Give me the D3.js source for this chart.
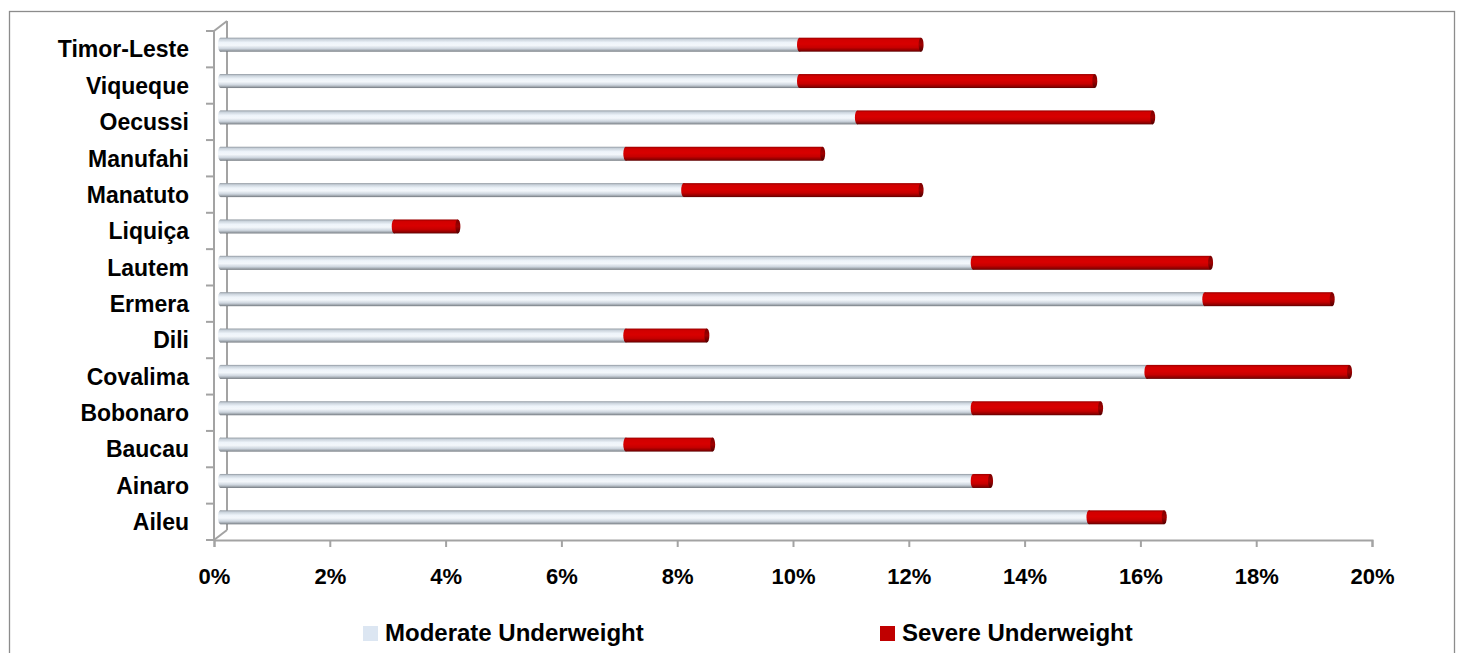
<!DOCTYPE html>
<html>
<head>
<meta charset="utf-8">
<script src="https://cdn.jsdelivr.net/npm/d3@7"></script>
<style>
  html, body { margin: 0; padding: 0; background: #fff; }
  svg { display: block; }
  text { font-family: "Liberation Sans", Arial, sans-serif; font-weight: bold; fill: #000; }
</style>
</head>
<body>
<svg id="chart" width="1457" height="653"></svg>
<script>
// Districts, top to bottom
const categories = ["Timor-Leste", "Viqueque", "Oecussi", "Manufahi", "Manatuto", "Liquiça",
  "Lautem", "Ermera", "Dili", "Covalima", "Bobonaro", "Baucau", "Ainaro", "Aileu"];
// Percentage of children underweight
const moderate = [10, 10, 11, 7, 8, 3, 13, 17, 7, 16, 13, 7, 13, 15];
const severe   = [2.1, 5.1, 5.1, 3.4, 4.1, 1.1, 4.1, 2.2, 1.4, 3.5, 2.2, 1.5, 0.3, 1.3];
const seriesNames = ["Moderate Underweight", "Severe Underweight"];
const xTicks = [0, 2, 4, 6, 8, 10, 12, 14, 16, 18, 20];

const svg = d3.select("#chart");
const defs = svg.append("defs");

// Cylinder shading gradients
function cylGradient(id, stops) {
  const g = defs.append("linearGradient").attr("id", id)
    .attr("x1", 0).attr("y1", 0).attr("x2", 0).attr("y2", 1);
  stops.forEach(s => g.append("stop").attr("offset", s[0]).attr("stop-color", s[1]));
}
cylGradient("gMod", [[0, "#8f979f"], [0.12, "#c9d2db"], [0.35, "#eef4fa"], [0.55, "#f3f7fb"],
  [0.78, "#cdd5de"], [0.92, "#9aa1a8"], [1, "#6d737a"]]);
cylGradient("gSev", [[0, "#9a0000"], [0.15, "#d20000"], [0.45, "#d80000"], [0.7, "#c60000"],
  [0.9, "#8e0000"], [1, "#5a0000"]]);
cylGradient("gSevCap", [[0, "#7a0000"], [0.5, "#a00000"], [1, "#500000"]]);

// Outer frame
svg.append("rect").attr("x", 9.5).attr("y", 11.5).attr("width", 1445).attr("height", 660)
  .attr("fill", "none").attr("stroke", "#8c8c8c").attr("stroke-width", 1.3);

const x = d3.scaleLinear().domain([0, 20]).range([214, 1372]);
const y = d3.scaleBand().domain(categories).range([31, 540]).paddingInner(0).paddingOuter(0);

// 3D depth offset of the back wall
const depthX = 13, depthY = -10;
const axisColor = "#a3a3a3";

// Back wall and side edges
const walls = svg.append("g").attr("stroke", axisColor).attr("stroke-width", 2).attr("fill", "none");
walls.append("line").attr("x1", x(0) + depthX).attr("y1", 31 + depthY)
  .attr("x2", x(0) + depthX).attr("y2", 540 + depthY);
walls.append("line").attr("x1", x(0)).attr("y1", 31).attr("x2", x(0) + depthX).attr("y2", 31 + depthY);
walls.append("line").attr("x1", x(0)).attr("y1", 540).attr("x2", x(0) + depthX).attr("y2", 540 + depthY);

// Bars: drawn halfway into the depth
const barH = 14;
const bx = depthX * 0.5, by = depthY * 0.45;
const capRx = 2.5;
const rows = categories.map((c, i) => ({ cat: c, mod: moderate[i], sev: severe[i] }));

const bars = svg.append("g");
rows.forEach(d => {
  const cy = y(d.cat) + y.bandwidth() / 2 + by;
  const x0 = x(0) + bx, x1 = x(d.mod) + bx, x2 = x(d.mod + d.sev) + bx;
  const top = cy - barH / 2;
  // moderate segment with rounded start
  bars.append("rect").attr("x", x0).attr("y", top).attr("width", x1 - x0).attr("height", barH)
    .attr("fill", "url(#gMod)");
  bars.append("ellipse").attr("cx", x0).attr("cy", cy).attr("rx", capRx).attr("ry", barH / 2)
    .attr("fill", "url(#gMod)");
  // severe segment
  bars.append("rect").attr("x", x1).attr("y", top).attr("width", x2 - x1).attr("height", barH)
    .attr("fill", "url(#gSev)");
  bars.append("ellipse").attr("cx", x1).attr("cy", cy).attr("rx", capRx).attr("ry", barH / 2)
    .attr("fill", "url(#gSev)");
  bars.append("ellipse").attr("cx", x2).attr("cy", cy).attr("rx", capRx).attr("ry", barH / 2)
    .attr("fill", "url(#gSevCap)");
});

// Category axis (front edge) with ticks on band boundaries
const yAxisG = svg.append("g").attr("transform", `translate(${x(0)},0)`)
  .call(d3.axisLeft(y).tickSize(0).tickPadding(25));
yAxisG.select(".domain").remove();
yAxisG.selectAll("text").attr("font-size", 23).attr("dy", "0.36em")
  .style("font-family", '"Liberation Sans", Arial, sans-serif').style("font-weight", "bold");
const bounds = categories.map(c => y(c)).concat([y.range()[1]]);
svg.append("g").selectAll("line").data(bounds).join("line")
  .attr("x1", x(0) - 8).attr("x2", x(0)).attr("y1", d => d).attr("y2", d => d)
  .attr("stroke", axisColor).attr("stroke-width", 2);
svg.append("line").attr("x1", x(0)).attr("x2", x(0)).attr("y1", 31).attr("y2", 540)
  .attr("stroke", axisColor).attr("stroke-width", 2);

// Value axis
const xAxisG = svg.append("g").attr("transform", "translate(0,540)")
  .call(d3.axisBottom(x).tickValues(xTicks).tickFormat(d => d + "%").tickSize(7).tickSizeOuter(7).tickPadding(21));
xAxisG.select(".domain").attr("stroke", axisColor).attr("stroke-width", 2);
xAxisG.selectAll(".tick line").attr("stroke", axisColor).attr("stroke-width", 2);
xAxisG.selectAll("text").attr("font-size", 22)
  .style("font-family", '"Liberation Sans", Arial, sans-serif').style("font-weight", "bold");

// Legend
const legendColors = ["#dce6f2", "#c00000"];
const legendX = [363, 880];
const legend = svg.append("g");
seriesNames.forEach((name, i) => {
  legend.append("rect").attr("x", legendX[i]).attr("y", 626).attr("width", 15).attr("height", 15)
    .attr("fill", legendColors[i]);
  legend.append("text").attr("x", legendX[i] + 22).attr("y", 641).attr("font-size", 24).text(name);
});
</script>
</body>
</html>
